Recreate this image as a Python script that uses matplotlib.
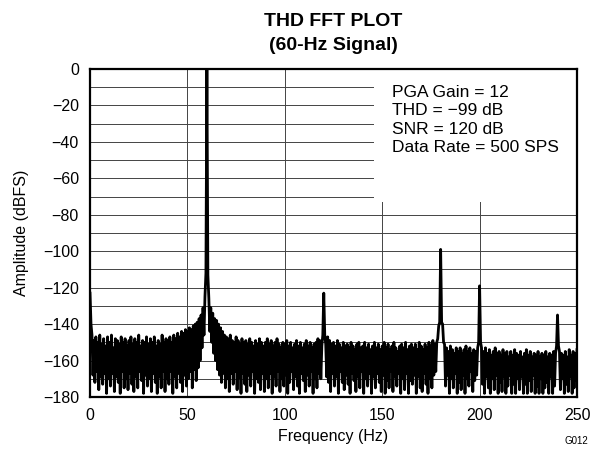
import matplotlib
matplotlib.use('Agg')
import matplotlib.pyplot as plt
from matplotlib.patches import Rectangle
import numpy as np

plt.rcParams['font.family'] = ['Liberation Sans', 'DejaVu Sans']

# Spectre lu sur la figure, pas de 0.5 Hz de 0 a 250 Hz (dBFS)
freq_step = 0.5
amplitude = [
    -123, -140, -146, -168, -149, -172, -147, -166, -150, -176, -146, -169, -151, -173, -148, -167, -152, -178, -147, -170,
    -150, -174, -146, -167, -153, -177, -148, -169, -149, -172, -151, -178, -147, -166, -150, -175, -148, -170, -152, -176,
    -149, -167, -147, -173, -151, -177, -148, -169, -150, -175, -146, -166, -152, -171, -149, -178, -150, -168, -147, -174,
    -151, -170, -148, -177, -150, -167, -147, -172, -152, -178, -149, -169, -151, -175, -146, -166, -150, -177, -148, -170,
    -149, -173, -147, -166, -150, -178, -146, -169, -148, -175, -145, -167, -147, -172, -144, -177, -145, -168, -143, -174,
    -144, -170, -142, -166, -143, -175, -141, -165, -140, -171, -139, -164, -137, -160, -135, -153, -131, -146, -125, -112,
    0, -113, -126, -144, -131, -150, -134, -156, -137, -160, -138, -165, -140, -168, -142, -172, -144, -167, -146, -175,
    -147, -170, -148, -177, -146, -167, -149, -173, -150, -166, -147, -176, -149, -169, -151, -178, -148, -167, -150, -173,
    -149, -177, -151, -168, -148, -174, -150, -166, -152, -178, -149, -170, -151, -172, -148, -176, -150, -167, -152, -177,
    -150, -170, -148, -175, -151, -167, -149, -178, -152, -169, -150, -174, -148, -166, -151, -177, -153, -170, -150, -174,
    -151, -168, -149, -178, -152, -172, -150, -166, -153, -176, -151, -169, -149, -174, -152, -178, -150, -167, -153, -171,
    -151, -177, -149, -168, -152, -174, -150, -166, -153, -178, -151, -170, -150, -175, -148, -167, -149, -170, -152, -146,
    -123, -146, -151, -169, -147, -172, -149, -177, -151, -167, -150, -174, -152, -169, -149, -178, -151, -166, -153, -172,
    -150, -176, -152, -168, -151, -173, -153, -178, -150, -167, -152, -171, -154, -177, -151, -169, -150, -175, -153, -166,
    -152, -178, -150, -170, -153, -174, -151, -167, -154, -178, -152, -169, -150, -175, -153, -167, -151, -172, -154, -177,
    -152, -168, -150, -178, -153, -171, -151, -175, -154, -166, -152, -177, -150, -169, -153, -174, -155, -167, -152, -178,
    -151, -170, -153, -176, -150, -167, -154, -178, -152, -171, -151, -173, -153, -168, -151, -178, -154, -169, -150, -175,
    -152, -177, -154, -167, -151, -173, -153, -178, -150, -170, -152, -175, -149, -168, -151, -166, -150, -148, -141, -139,
    -99, -139, -140, -150, -151, -174, -153, -168, -155, -178, -152, -170, -154, -175, -156, -167, -153, -178, -155, -172,
    -153, -176, -156, -168, -154, -178, -152, -170, -155, -174, -153, -166, -156, -177, -154, -171, -155, -168, -153, -150,
    -119, -150, -153, -173, -155, -178, -153, -169, -156, -175, -154, -178, -157, -170, -155, -176, -153, -168, -156, -178,
    -155, -172, -157, -177, -154, -169, -156, -178, -155, -174, -158, -168, -155, -178, -157, -173, -154, -178, -156, -170,
    -157, -176, -155, -169, -158, -178, -156, -173, -154, -178, -157, -171, -155, -177, -158, -168, -156, -178, -157, -174,
    -155, -178, -158, -170, -156, -178, -157, -175, -155, -172, -158, -178, -156, -169, -157, -178, -155, -174, -156, -152,
    -135, -152, -155, -176, -156, -170, -157, -178, -155, -173, -158, -177, -154, -169, -157, -178, -155, -175, -156, -171, -154,
]
frequence = np.arange(len(amplitude)) * freq_step

x_ticks = [0, 50, 100, 150, 200, 250]
y_ticks = [0, -20, -40, -60, -80, -100, -120, -140, -160, -180]
infos = ['PGA Gain = 12', 'THD = \u221299 dB', 'SNR = 120 dB', 'Data Rate = 500 SPS']

fig = plt.figure(figsize=(5.97, 4.49), dpi=100)
ax = fig.add_axes([0.1508, 0.1158, 0.8157, 0.7305])

# Grille : verticale tous les 50 Hz, horizontale tous les 10 dB
ax.set_axisbelow(True)
ax.set_xticks(x_ticks)
ax.set_yticks(y_ticks)
ax.set_yticks(np.arange(-170, 0, 20), minor=True)
ax.grid(which='major', color='#444444', linewidth=0.7)
ax.grid(which='minor', axis='y', color='#444444', linewidth=0.7)
ax.tick_params(which='both', length=0, labelsize=11.5, colors='black', pad=8)

# Zone blanche derriere le texte
ax.add_patch(Rectangle((146, -73), 110, 80, facecolor='white', edgecolor='none', zorder=1))

ax.plot(frequence, amplitude, color='black', linewidth=2.0, zorder=3)

ax.set_xlim(0, 250)
ax.set_ylim(-180, 0)
for s in ax.spines.values():
    s.set_linewidth(1.6)
    s.set_zorder(4)

for i, t in enumerate(infos):
    ax.text(0.62, 0.928 - i * 0.0555, t, transform=ax.transAxes, fontsize=12.5, va='center', ha='left', zorder=5)

ax.set_xlabel('Frequency (Hz)', fontsize=11.5, labelpad=4)
ax.set_ylabel('Amplitude (dBFS)', fontsize=11.5, labelpad=10)

# Titre sur deux lignes
fig.text(0.558, 0.953, 'THD FFT PLOT', fontsize=14, fontweight='bold', ha='center', va='center')
fig.text(0.558, 0.898, '(60-Hz Signal)', fontsize=14, fontweight='bold', ha='center', va='center')

fig.text(0.945, 0.018, 'G012', fontsize=7, ha='left', va='center')

fig.savefig('out.png', dpi=100)
